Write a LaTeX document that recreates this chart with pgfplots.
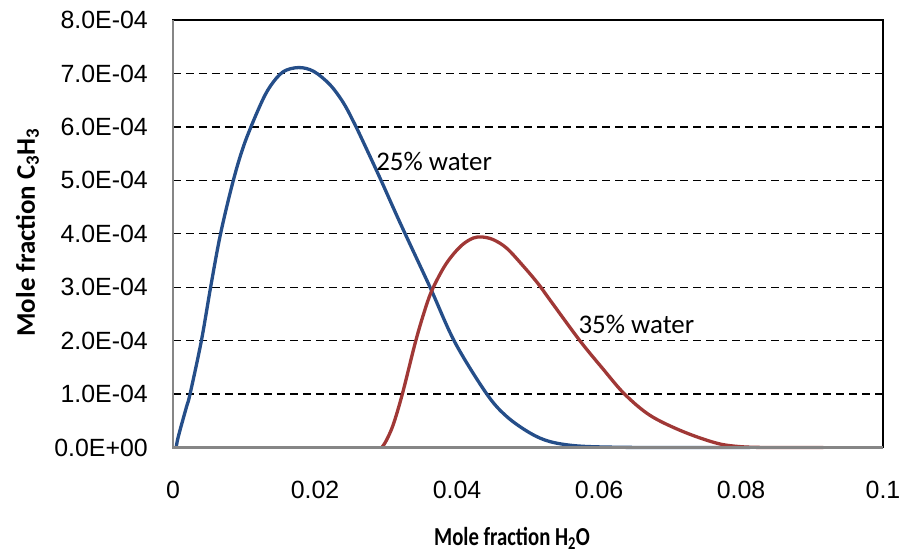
\documentclass[border=0pt]{standalone}
\usepackage{fontspec}
\setmainfont{Carlito}
\newfontfamily\arial{Liberation Sans}
\usepackage{pgfplots}
\pgfplotsset{compat=1.18}
\definecolor{cblue}{RGB}{37,78,137}
\definecolor{cred}{RGB}{160,56,54}
\definecolor{axgray}{RGB}{134,134,134}
\begin{document}
\begin{tikzpicture}
\useasboundingbox (-173bp,-107.5bp) rectangle (728bp,447.5bp);
\begin{axis}[
  at={(0,0)}, anchor=south west,
  scale only axis, width=710bp, height=427.5bp,
  xmin=0, xmax=0.1, ymin=0, ymax=8e-4,
  xtick={0,0.02,0.04,0.06,0.08,0.1},
  xticklabels={0,0.02,0.04,0.06,0.08,0.1},
  ytick={0,1e-4,2e-4,3e-4,4e-4,5e-4,6e-4,7e-4,8e-4},
  yticklabels={0.0E+00,1.0E-04,2.0E-04,3.0E-04,4.0E-04,5.0E-04,6.0E-04,7.0E-04,8.0E-04},
  scaled y ticks=false,
  major tick length=0pt,
  ticklabel style={font=\arial\fontsize{25}{28}\selectfont, text=black, inner sep=0pt},
  xticklabel style={anchor=base, yshift=-51bp},
  yticklabel style={anchor=east, xshift=-25bp},
  ymajorgrids, grid style={black, dash pattern=on 8bp off 5bp, line width=1.3bp},
  axis line style={black, line width=1.2bp},
  clip=false,
]
\addplot[cblue, line width=3.3bp, smooth, tension=0.55] coordinates {
(0.00045,0) (0.0006,0.12e-4) (0.0010,0.33e-4) (0.0019,0.76e-4) (0.0024,1.0e-4)
(0.0040,2.0e-4) (0.0053,3.0e-4) (0.0067,4.0e-4) (0.0085,5.0e-4) (0.0101,5.70e-4)
(0.0123,6.41e-4) (0.0137,6.76e-4) (0.0155,7.03e-4) (0.0177,7.11e-4) (0.0198,7.04e-4)
(0.0221,6.79e-4) (0.0240,6.45e-4) (0.0256,6.05e-4) (0.0270,5.66e-4) (0.0293,5.0e-4)
(0.0320,4.2e-4) (0.0362,3.0e-4) (0.0397,1.97e-4) (0.0442,1.0e-4) (0.0470,0.58e-4)
(0.0503,0.27e-4) (0.0531,0.11e-4) (0.0569,0.03e-4) (0.0625,0.005e-4) (0.0700,0)
(0.0813,0)
};
\addplot[cred, line width=3.3bp, smooth, tension=0.55] coordinates {
(0.0294,0) (0.0300,0.12e-4) (0.0310,0.42e-4) (0.0323,1.0e-4) (0.0341,1.95e-4)
(0.0353,2.50e-4) (0.0364,2.92e-4) (0.0381,3.36e-4) (0.0395,3.62e-4) (0.0409,3.81e-4)
(0.0423,3.92e-4) (0.0435,3.94e-4) (0.0451,3.89e-4) (0.0470,3.73e-4) (0.0493,3.40e-4)
(0.0514,3.07e-4) (0.0531,2.76e-4) (0.0573,2.0e-4) (0.0605,1.48e-4) (0.0636,1.0e-4)
(0.0672,0.6e-4) (0.0718,0.3e-4) (0.0766,0.08e-4) (0.0800,0.015e-4) (0.0840,0)
(0.0916,0)
};
\draw[axgray, line width=2.2bp] (rel axis cs:0,1) -- (rel axis cs:0,0) -- (rel axis cs:1,0);
\node[anchor=base west, font=\fontsize{27}{30}\selectfont, inner sep=0pt] at (axis cs:0.0286,5.18e-4) {25\% water};
\node[anchor=base west, font=\fontsize{27}{30}\selectfont, inner sep=0pt] at (axis cs:0.0571,2.14e-4) {35\% water};
\node[anchor=base, inner sep=0pt, font=\bfseries\fontsize{26}{30}\selectfont, xscale=0.8] at (axis description cs:0.4775,-0.2304) {Mole fraction H\textsubscript{2}O};
\node[anchor=base, inner sep=0pt, font=\bfseries\fontsize{27}{30}\selectfont, rotate=90] at (axis description cs:-0.1944,0.503) {Mole fraction C\textsubscript{3}H\textsubscript{3}};
\end{axis}
\end{tikzpicture}
\end{document}
